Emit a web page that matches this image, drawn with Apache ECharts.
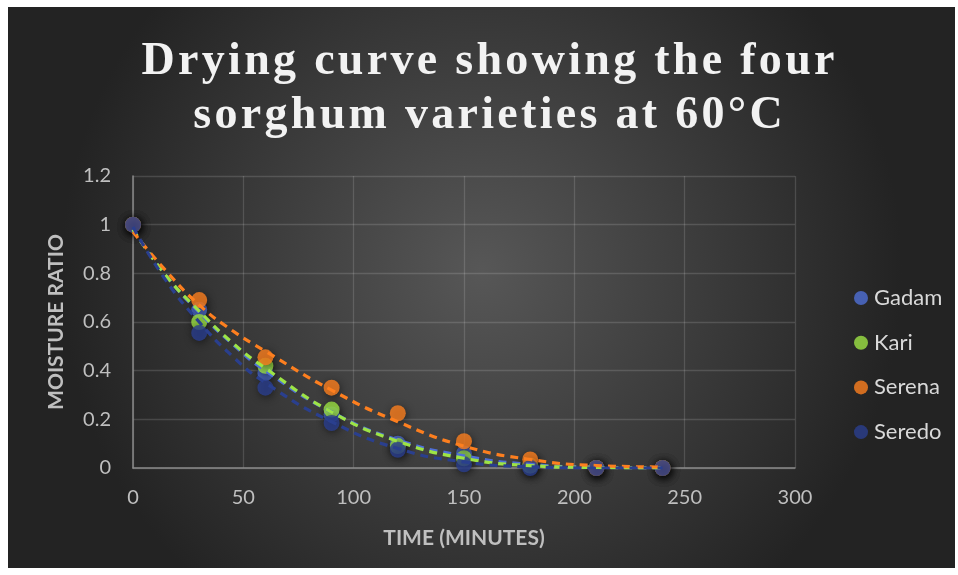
<!DOCTYPE html>
<html><head><meta charset="utf-8">
<script src="https://cdn.jsdelivr.net/npm/echarts@6/dist/echarts.min.js"></script>
<style>
html,body{margin:0;padding:0;background:#fff;width:958px;height:575px;overflow:hidden}
#c{position:absolute;left:8px;top:7px;width:947px;height:561px}
</style></head>
<body><div id="c"></div>
<script>
const times = [0, 30, 60, 90, 120, 150, 180, 210, 240];
const seriesNames = ['Gadam', 'Kari', 'Serena', 'Seredo'];
const colors = ['#4f6fd6', '#9de445', '#fd7f1f', '#2a3f8e'];
const gadam  = [1, 0.65, 0.39, 0.22, 0.10, 0.06, 0.01, 0, 0];
const kari   = [1, 0.60, 0.42, 0.24, 0.09, 0.04, 0.01, 0, 0];
const serena = [1, 0.69, 0.455, 0.33, 0.225, 0.11, 0.035, 0, 0];
const seredo = [1, 0.555, 0.33, 0.185, 0.075, 0.015, 0, 0, 0];
// trend lines
const trendX = [0, 15, 30, 45, 60, 90, 120, 150, 180, 210, 240];
const gadamTrend  = [0.98, 0.79, 0.64, 0.51, 0.40, 0.23, 0.115, 0.05, 0.015, 0.003, 0];
const kariTrend   = [0.98, 0.79, 0.645, 0.515, 0.41, 0.23, 0.11, 0.04, 0.01, 0.002, 0];
const serenaTrend = [0.97, 0.81, 0.67, 0.565, 0.48, 0.32, 0.19, 0.09, 0.035, 0.01, 0.004];
const seredoTrend = [0.99, 0.77, 0.60, 0.46, 0.35, 0.19, 0.08, 0.025, 0.005, 0, 0];
const titleLines = ['Drying curve showing the four', 'sorghum varieties at 60°C'];

const pts = [gadam, kari, serena, seredo];
const trends = [gadamTrend, kariTrend, serenaTrend, seredoTrend];

const chart = echarts.init(document.getElementById('c'), null, {renderer: 'canvas'});
const series = [];
pts.forEach((arr, i) => {
  series.push({
    name: seriesNames[i], type: 'scatter', symbol: 'circle', symbolSize: 16, z: 3,
    itemStyle: {color: colors[i], shadowBlur: 8, shadowColor: 'rgba(0,0,0,0.6)', shadowOffsetX: 1, shadowOffsetY: 2},
    data: times.map((t, j) => [t, arr[j]])
  });
});
trends.forEach((arr, i) => {
  series.push({
    name: seriesNames[i], type: 'line', smooth: true, showSymbol: false, symbol: 'none', z: 4,
    silent: true,
    lineStyle: {color: colors[i], width: 3.2, type: [8, 6]},
    data: trendX.map((t, j) => [t, arr[j]])
  });
});

const titleFont = {fontFamily: 'Liberation Serif', fontWeight: 'bold', fontSize: 46, fill: '#f2f2f2'};
// each title line drawn as centred text; letter spacing emulated with one rich token per character
const titleGraphics = titleLines.map((line, k) => ({
  type: 'text', x: 480, y: 32 + k * 54, z: 10,
  style: Object.assign({}, titleFont, {
    text: Array.from(line).map(ch => '{c|' + ch + '}').join(''),
    align: 'center', verticalAlign: 'top',
    rich: {c: {fontFamily: 'Liberation Serif', fontWeight: 'bold', fontSize: 46, color: '#f2f2f2',
      padding: [0, 1.65, 0, 1.65]}}
  })
}));

chart.setOption({
  backgroundColor: {type: 'radial', x: 0.5, y: 0.47, r: 0.75,
    colorStops: [{offset: 0, color: '#575757'}, {offset: 1, color: '#232323'}]},
  animation: false,
  graphic: titleGraphics,
  legend: {
    orient: 'vertical', left: 841, top: 275, itemGap: 22.7,
    icon: 'circle', itemWidth: 14, itemHeight: 14,
    data: seriesNames.map((n, i) => ({name: n, itemStyle: {color: colors[i]}})),
    textStyle: {color: '#d9d9d9', fontSize: 22, fontFamily: 'Lato', padding: [0, 0, 0, 1]}
  },
  grid: {left: 125, right: 160, top: 169, bottom: 100, containLabel: false},
  xAxis: {
    type: 'value', min: 0, max: 300, interval: 50,
    name: 'TIME (MINUTES)', nameLocation: 'middle', nameGap: 60,
    nameTextStyle: {color: '#bfbfbf', fontSize: 21, fontWeight: 'bold', fontFamily: 'Lato'},
    axisLine: {show: true, lineStyle: {color: '#8a8a8a', width: 1.5}},
    axisTick: {show: false},
    axisLabel: {color: '#bfbfbf', fontSize: 20, fontFamily: 'Lato', margin: 20},
    splitLine: {show: true, lineStyle: {color: 'rgba(255,255,255,0.14)', width: 1.3}}
  },
  yAxis: {
    type: 'value', min: 0, max: 1.2, interval: 0.2,
    name: 'MOISTURE RATIO', nameLocation: 'middle', nameGap: 66, nameRotate: 90,
    nameTextStyle: {color: '#bfbfbf', fontSize: 21, fontWeight: 'bold', fontFamily: 'Lato'},
    axisLine: {show: true, lineStyle: {color: '#8a8a8a', width: 1.5}},
    axisTick: {show: false},
    axisLabel: {color: '#bfbfbf', fontSize: 20, fontFamily: 'Lato', margin: 22,
      formatter: v => String(Math.round(v * 10) / 10)},
    splitLine: {show: true, lineStyle: {color: 'rgba(255,255,255,0.14)', width: 1.3}}
  },
  series: series
});
</script></body></html>
